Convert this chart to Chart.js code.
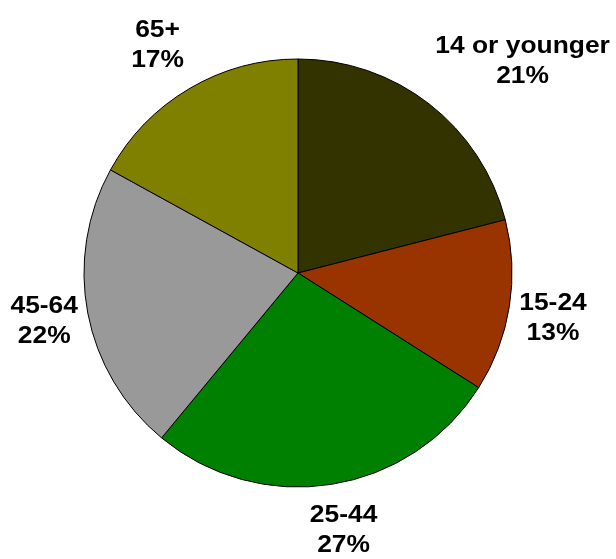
<!DOCTYPE html>
<html>
<head>
<meta charset="utf-8">
<script src="https://cdn.jsdelivr.net/npm/chart.js@4.4.1/dist/chart.umd.min.js"></script>
<style>
  html, body { margin: 0; padding: 0; background: #fff; }
  #wrap { width: 616px; height: 559px; }
</style>
</head>
<body>
<div id="wrap"><canvas id="pieChart" width="616" height="559"></canvas></div>
<script>
// ===== DATA =====
const ageGroups = ['14 or younger', '15-24', '25-44', '45-64', '65+'];
const shares = [21, 13, 27, 22, 17];
const sliceColors = ['#333300', '#993300', '#008000', '#999999', '#808000'];

// ===== OUTSIDE LABELS =====
// Two-line label (group name + percent) pushed outside each slice,
// anchored so the text box sits away from the pie along the slice mid-angle.
const outsideLabels = {
  id: 'outsideLabels',
  afterDatasetsDraw(chart) {
    const ctx = chart.ctx;
    const meta = chart.getDatasetMeta(0);
    const lineH = 30;
    const stretch = 1.1;
    ctx.save();
    ctx.font = 'bold 24px "Liberation Sans", Arial, sans-serif';
    ctx.fillStyle = '#000';
    ctx.textAlign = 'center';
    ctx.textBaseline = 'middle';
    meta.data.forEach((arc, i) => {
      const lines = [chart.data.labels[i], chart.data.datasets[0].data[i] + '%'];
      const mid = (arc.startAngle + arc.endAngle) / 2;
      const ux = Math.cos(mid), uy = Math.sin(mid);
      const px = arc.x + ux * (arc.outerRadius + 10);
      const py = arc.y + uy * (arc.outerRadius + 16);
      const w = Math.max(...lines.map(t => ctx.measureText(t).width)) * stretch;
      const h = lineH * 2;
      const clamp = v => Math.max(-1, Math.min(1, v));
      const cx = px + (w / 2) * clamp(ux * 2);
      const cy = py + (h / 2) * clamp(uy * 2) - (ux < -0.9 ? 6 : 0);
      lines.forEach((t, k) => {
        ctx.save();
        ctx.translate(cx, cy + (k - 0.5) * lineH);
        ctx.scale(stretch, 1);
        ctx.fillText(t, 0, 0);
        ctx.restore();
      });
    });
    ctx.restore();
  }
};

// ===== PIE CHART =====
new Chart(document.getElementById('pieChart').getContext('2d'), {
  type: 'pie',
  data: {
    labels: ageGroups,
    datasets: [{
      data: shares,
      backgroundColor: sliceColors,
      borderColor: '#000',
      borderWidth: 1,
      hoverOffset: 0
    }]
  },
  options: {
    responsive: false,
    animation: false,
    radius: 214,
    layout: { padding: { left: 84, right: 104, top: 59, bottom: 72 } },
    plugins: {
      legend: { display: false },
      tooltip: { enabled: false }
    }
  },
  plugins: [outsideLabels]
});
</script>
</body>
</html>
